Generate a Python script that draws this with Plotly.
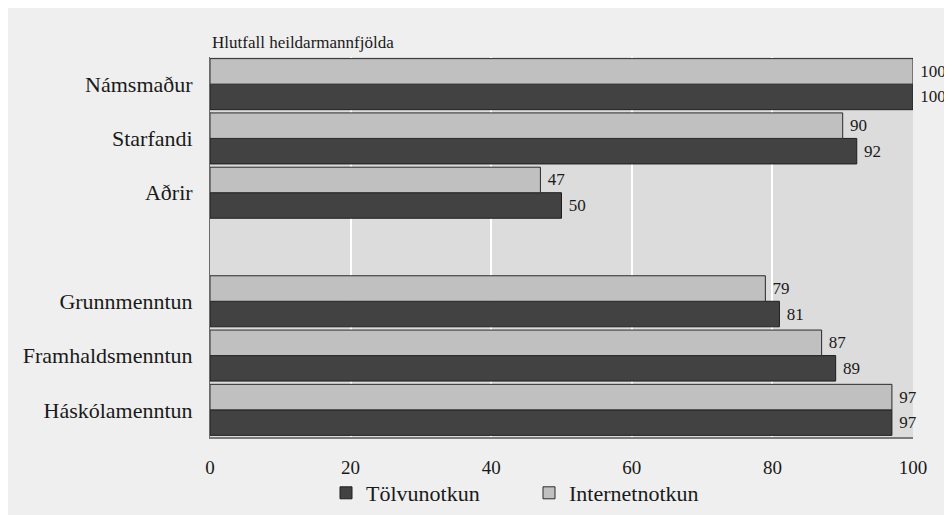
import plotly.graph_objects as go

categories = ["Námsmaður", "Starfandi", "Aðrir", "Grunnmenntun", "Framhaldsmenntun", "Háskólamenntun"]
# slot index from top; slot 3 is an empty spacer row
slots = [0, 1, 2, 4, 5, 6]
tolvunotkun = [100, 92, 50, 81, 89, 97]
internetnotkun = [100, 90, 47, 79, 87, 97]
x_ticks = [0, 20, 40, 60, 80, 100]
title_text = "Hlutfall heildarmannfjölda"

n_slots = 7
ypos = [n_slots - 1 - s for s in slots]

FONT = "Liberation Serif, Times New Roman, serif"
TXT = "#1a1a1a"

fig = go.Figure()
fig.add_trace(go.Bar(
    name="Tölvunotkun", y=ypos, x=tolvunotkun, orientation="h",
    marker=dict(color="#424242", line=dict(color="#1e1e1e", width=1)),
    texttemplate=" %{x}", textposition="outside",
    textfont=dict(family=FONT, size=17, color=TXT), cliponaxis=False,
))
fig.add_trace(go.Bar(
    name="Internetnotkun", y=ypos, x=internetnotkun, orientation="h",
    marker=dict(color="#c0c0c0", line=dict(color="#2a2a2a", width=1)),
    texttemplate=" %{x}", textposition="outside",
    textfont=dict(family=FONT, size=17, color=TXT), cliponaxis=False,
))

# plot area in figure pixels (page has an 8px body margin)
L, R, T, B = 202, 905, 49, 429
W, H = R - L, B - T
def px_x(p): return (p - L) / W
def px_y(p): return (B - p) / H

fig.update_layout(
    width=952, height=515,
    margin=dict(l=L, r=952 - R, t=T, b=515 - B, autoexpand=False),
    paper_bgcolor="#efefef",
    plot_bgcolor="#dcdcdc",
    barmode="group", bargap=0.06, bargroupgap=0.0,
    font=dict(family=FONT, size=16, color=TXT),
    showlegend=True,
    legend=dict(orientation="h", x=px_x(318), xanchor="left", y=px_y(485), yanchor="middle",
                font=dict(family=FONT, size=22, color=TXT), bgcolor="rgba(0,0,0,0)",
                itemwidth=30, entrywidth=158, entrywidthmode="pixels",
                tracegroupgap=0, traceorder="normal"),
    xaxis=dict(range=[0, 100], tickvals=x_ticks, showgrid=True, gridcolor="#ffffff", gridwidth=2,
               zeroline=False, showline=True, linecolor="#7a7a7a", linewidth=2,
               ticks="", ticklabelstandoff=12, tickfont=dict(family=FONT, size=19, color=TXT),
               fixedrange=True),
    yaxis=dict(range=[-0.5, n_slots - 0.5], tickvals=ypos, ticktext=categories,
               showgrid=False, zeroline=False, showline=True, linecolor="#6a6a6a", linewidth=1,
               ticks="", ticklabelstandoff=12, tickfont=dict(family=FONT, size=22, color=TXT),
               fixedrange=True),
    annotations=[
        dict(text=title_text, xref="paper", yref="paper", x=0, y=px_y(34), xanchor="left", yanchor="middle",
             showarrow=False, font=dict(family=FONT, size=17, color=TXT)),
    ],
)

fig.write_html("out.html")
